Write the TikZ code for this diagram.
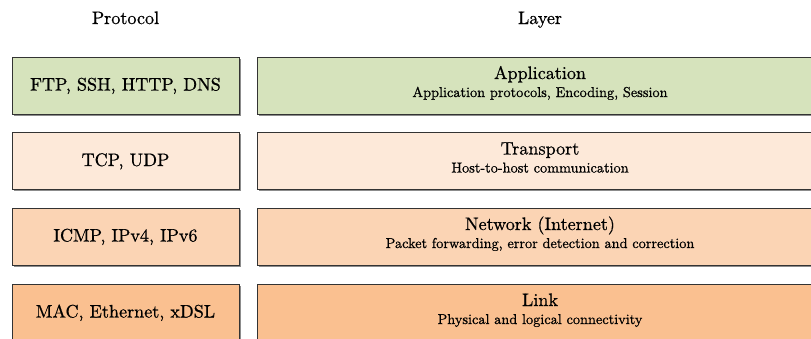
\documentclass[tikz,border=0pt]{standalone}
\usepackage{fontspec}
\newfontfamily\mainlm{lmroman10-regular}[Extension=.otf, FakeBold=0.7]
\usetikzlibrary{shadows}
\definecolor{rowa}{HTML}{D6E3BC}
\definecolor{rowb}{HTML}{FDE9D9}
\definecolor{rowc}{HTML}{FBD4B4}
\definecolor{rowd}{HTML}{FAC090}
\definecolor{edgec}{HTML}{333333}
\tikzset{
  layerbox/.style={draw=edgec, line width=0.9pt, inner sep=0pt, outer sep=0pt,
    minimum height=57pt,
    drop shadow={shadow xshift=1.6pt, shadow yshift=-1.6pt, fill=black, opacity=0.45}},
  protobox/.style={layerbox, minimum width=227pt},
  namebox/.style={layerbox, minimum width=566pt},
  bigtext/.style={anchor=base, inner sep=0pt, font=\mainlm\fontsize{18.1}{21}\selectfont},
  smalltext/.style={anchor=base, inner sep=0pt, font=\mainlm\fontsize{14.3}{17}\selectfont},
}
\begin{document}
\begin{tikzpicture}[x=1pt,y=-1pt]
\useasboundingbox (0,0) rectangle (811,338);
\clip (0,0) rectangle (811,338);
\node[bigtext] (hp) at (125.5,24) {Protocol};
\node[bigtext] (hl) at (540,24) {Layer};
% row 1
\node[protobox, fill=rowa] (pa) at (125.5,85.5) {};
\node[namebox, fill=rowa] (la) at (540,85.5) {};
\node[bigtext] (pat) at (125.5,90.5) {FTP, SSH, HTTP, DNS};
\node[bigtext] (lat) at (540,79) {Application};
\node[smalltext] (las) at (540,97) {Application protocols, Encoding, Session};
% row 2
\node[protobox, fill=rowb] (pb) at (125.5,161) {};
\node[namebox, fill=rowb] (lb) at (540,161) {};
\node[bigtext] (pbt) at (125.5,166) {TCP, UDP};
\node[bigtext] (lbt) at (540,154.5) {Transport};
\node[smalltext] (lbs) at (540,172.5) {Host-to-host communication};
% row 3
\node[protobox, fill=rowc] (pc) at (125.5,236.5) {};
\node[namebox, fill=rowc] (lc) at (540,236.5) {};
\node[bigtext] (pct) at (125.5,241.5) {ICMP, IPv4, IPv6};
\node[bigtext] (lct) at (540,230) {Network (Internet)};
\node[smalltext] (lcs) at (540,248) {Packet forwarding, error detection and correction};
% row 4
\node[protobox, fill=rowd] (pd) at (125.5,312.5) {};
\node[namebox, fill=rowd] (ld) at (540,312.5) {};
\node[bigtext] (pdt) at (125.5,317.5) {MAC, Ethernet, xDSL};
\node[bigtext] (ldt) at (540,306) {Link};
\node[smalltext] (lds) at (540,324) {Physical and logical connectivity};
\end{tikzpicture}
\end{document}
